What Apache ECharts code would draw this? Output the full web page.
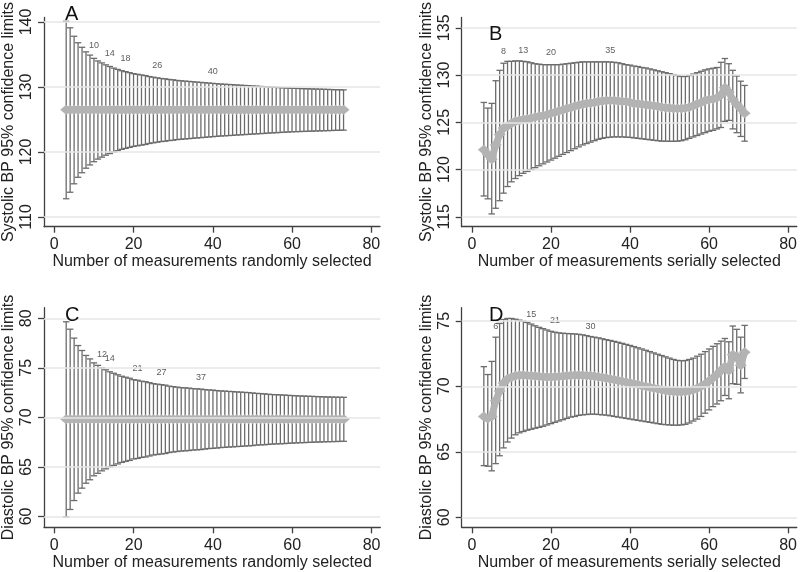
<!DOCTYPE html>
<html><head><meta charset="utf-8">
<script src="https://cdn.jsdelivr.net/npm/echarts@6/dist/echarts.min.js"></script>
<style>html,body{margin:0;padding:0;background:#fff}#c{width:800px;height:572px}</style>
</head><body><div id="c"></div>
<script>
// ---------- DATA ----------
const xTicks = [0, 20, 40, 60, 80];

// Panel A: systolic, random selection
const nA = [3,4,5,6,7,8,9,10,11,12,13,14,15,16,17,18,19,20,21,22,23,24,25,26,27,28,29,30,31,32,33,34,35,36,37,38,39,40,41,42,43,44,45,46,47,48,49,50,51,52,53,54,55,56,57,58,59,60,61,62,63,64,65,66,67,68,69,70,71,72,73];
const upperA = [140.1,139.1,137.8,136.8,136.1,135.4,134.9,134.4,134.0,133.7,
  133.4,133.15,132.9,132.7,132.5,132.35,132.2,132.05,131.95,131.85,
  131.75,131.6,131.5,131.4,131.3,131.25,131.15,131.1,131.0,130.95,
  130.9,130.85,130.8,130.75,130.7,130.65,130.6,130.55,130.5,130.45,
  130.42,130.38,130.35,130.3,130.27,130.23,130.2,130.15,130.12,130.08,
  130.05,130.0,129.97,129.94,129.9,129.87,129.84,129.8,129.78,129.76,
  129.74,129.72,129.7,129.68,129.66,129.64,129.62,129.6,129.58,129.57,
  129.55];
const lowerA = [112.8,113.8,115.1,116.1,116.8,117.5,118.0,118.5,118.9,119.2,
  119.5,119.75,120.0,120.2,120.4,120.55,120.7,120.85,120.95,121.05,
  121.15,121.3,121.4,121.5,121.6,121.65,121.75,121.8,121.9,121.95,
  122.0,122.05,122.1,122.15,122.2,122.25,122.3,122.35,122.4,122.45,
  122.48,122.52,122.55,122.6,122.63,122.67,122.7,122.75,122.78,122.82,
  122.85,122.9,122.93,122.96,123.0,123.03,123.06,123.1,123.12,123.14,
  123.16,123.18,123.2,123.22,123.24,123.26,123.28,123.3,123.32,123.33,
  123.35];
const meanA = [126.5,126.5,126.5,126.5,126.5,126.5,126.5,126.5,126.5,126.5,
  126.5,126.5,126.5,126.5,126.5,126.5,126.5,126.5,126.5,126.5,
  126.5,126.5,126.5,126.5,126.5,126.5,126.5,126.5,126.5,126.5,
  126.5,126.5,126.5,126.5,126.5,126.5,126.5,126.5,126.5,126.5,
  126.5,126.5,126.5,126.5,126.5,126.5,126.5,126.5,126.5,126.5,
  126.5,126.5,126.5,126.5,126.5,126.5,126.5,126.5,126.5,126.5,
  126.5,126.5,126.5,126.5,126.5,126.5,126.5,126.5,126.5,126.5,
  126.5];
const yTicksA = [110, 120, 130, 140];
const annAn = [10, 14, 18, 26, 40];
const annAy = [136.4, 135.1, 134.35, 133.3, 132.3];

// Panel B: systolic, serial selection
const nB = [3,4,5,6,7,8,9,10,11,12,13,14,15,16,17,18,19,20,21,22,23,24,25,26,27,28,29,30,31,32,33,34,35,36,37,38,39,40,41,42,43,44,45,46,47,48,49,50,51,52,53,54,55,56,57,58,59,60,61,62,63,64,65,66,67,68,69];
const upperB = [127.1,126.5,127.0,129.4,130.5,131.25,131.45,131.45,131.5,131.5,
  131.45,131.4,131.3,131.2,131.15,131.1,131.1,131.1,131.1,131.1,
  131.15,131.2,131.25,131.3,131.35,131.4,131.4,131.4,131.4,131.4,
  131.4,131.4,131.38,131.35,131.3,131.2,131.1,131.05,130.95,130.9,
  130.8,130.75,130.65,130.55,130.45,130.35,130.25,130.15,130.05,129.95,
  129.85,129.85,129.95,130.1,130.25,130.4,130.55,130.65,130.72,130.8,
  131.35,131.75,131.2,130.5,129.9,129.35,128.9];
const lowerB = [117.2,116.9,115.3,115.9,116.7,117.5,118.2,118.7,119.05,119.35,
  119.6,119.8,120.0,120.2,120.4,120.6,120.8,121.0,121.2,121.4,
  121.6,121.8,122.0,122.2,122.4,122.6,122.75,122.9,123.05,123.2,
  123.3,123.38,123.42,123.45,123.45,123.45,123.42,123.4,123.35,123.3,
  123.25,123.2,123.15,123.1,123.05,123.0,123.0,122.98,122.98,123.0,
  123.05,123.15,123.3,123.45,123.6,123.75,123.9,124.05,124.15,124.3,
  124.45,125.1,125.2,124.3,123.9,123.5,123.0];
const meanB = [122.1,121.6,121.1,122.6,123.7,124.4,124.6,124.9,125.1,125.2,
  125.3,125.35,125.45,125.55,125.65,125.7,125.8,125.95,126.05,126.2,
  126.3,126.45,126.55,126.7,126.8,126.9,127.0,127.05,127.1,127.2,
  127.25,127.3,127.3,127.3,127.25,127.2,127.2,127.1,127.0,126.95,
  126.9,126.85,126.8,126.75,126.7,126.6,126.55,126.5,126.45,126.45,
  126.45,126.5,126.6,126.75,126.95,127.1,127.3,127.4,127.45,127.6,
  127.9,128.65,128.2,127.4,126.9,126.45,125.95];
const yTicksB = [115, 120, 125, 130, 135];
const annBn = [8, 13, 20, 35];
const annBy = [132.45, 132.6, 132.4, 132.55];

// Panel C: diastolic, random selection
const nC = nA;
const upperC = [79.65,78.9,78.0,77.25,76.75,76.25,75.9,75.5,75.25,75.0,
  74.8,74.6,74.45,74.3,74.15,74.05,73.95,73.8,73.75,73.65,
  73.6,73.5,73.4,73.35,73.3,73.25,73.15,73.1,73.05,73.0,
  72.98,72.95,72.9,72.88,72.85,72.8,72.77,72.75,72.7,72.67,
  72.65,72.62,72.6,72.57,72.55,72.52,72.5,72.46,72.42,72.4,
  72.37,72.33,72.3,72.29,72.27,72.25,72.22,72.2,72.18,72.16,
  72.15,72.13,72.12,72.1,72.09,72.07,72.06,72.05,72.04,72.03,
  72.02];
const lowerC = [59.95,60.7,61.6,62.35,62.85,63.35,63.7,64.1,64.35,64.6,
  64.8,65.0,65.15,65.3,65.45,65.55,65.65,65.8,65.85,65.95,
  66.0,66.1,66.2,66.25,66.3,66.35,66.45,66.5,66.55,66.6,
  66.62,66.65,66.7,66.72,66.75,66.8,66.85,66.87,66.9,66.95,
  66.97,67.0,67.02,67.05,67.07,67.1,67.12,67.15,67.2,67.22,
  67.23,67.27,67.3,67.32,67.33,67.35,67.38,67.4,67.42,67.44,
  67.45,67.47,67.48,67.5,67.51,67.53,67.54,67.55,67.56,67.57,
  67.58];
const meanC = [69.8,69.8,69.8,69.8,69.8,69.8,69.8,69.8,69.8,69.8,
  69.8,69.8,69.8,69.8,69.8,69.8,69.8,69.8,69.8,69.8,
  69.8,69.8,69.8,69.8,69.8,69.8,69.8,69.8,69.8,69.8,
  69.8,69.8,69.8,69.8,69.8,69.8,69.8,69.8,69.8,69.8,
  69.8,69.8,69.8,69.8,69.8,69.8,69.8,69.8,69.8,69.8,
  69.8,69.8,69.8,69.8,69.8,69.8,69.8,69.8,69.8,69.8,
  69.8,69.8,69.8,69.8,69.8,69.8,69.8,69.8,69.8,69.8,
  69.8];
const yTicksC = [60, 65, 70, 75, 80];
const annCn = [12, 14, 21, 27, 37];
const annCy = [76.3, 75.9, 74.95, 74.55, 74.07];

// Panel D: diastolic, serial selection
const nD = nB;
const upperD = [71.5,70.9,71.9,73.75,74.8,75.1,75.18,75.18,75.12,75.05,
  74.97,74.87,74.75,74.62,74.5,74.4,74.3,74.2,74.13,74.08,
  74.05,74.03,74.02,74.0,73.97,73.93,73.87,73.8,73.75,73.7,
  73.63,73.56,73.5,73.43,73.36,73.28,73.2,73.12,73.03,72.94,
  72.85,72.75,72.65,72.55,72.45,72.35,72.25,72.15,72.05,71.98,
  71.95,71.97,72.05,72.15,72.3,72.45,72.65,72.85,73.05,73.25,
  73.45,73.65,73.4,74.6,74.35,73.75,74.65];
const lowerD = [63.95,63.9,63.55,64.1,64.7,65.3,65.75,66.05,66.3,66.45,
  66.55,66.65,66.72,66.8,66.87,66.95,67.05,67.15,67.25,67.35,
  67.45,67.55,67.65,67.7,67.78,67.82,67.85,67.87,67.87,67.85,
  67.82,67.8,67.75,67.7,67.65,67.6,67.55,67.5,67.45,67.4,
  67.35,67.3,67.25,67.2,67.15,67.1,67.07,67.05,67.03,67.03,
  67.05,67.1,67.2,67.35,67.5,67.7,67.95,68.2,68.45,68.65,
  68.9,69.3,69.05,70.2,70.15,69.5,70.6];
const meanD = [67.7,67.55,67.7,68.9,69.65,70.25,70.55,70.7,70.8,70.85,
  70.85,70.83,70.8,70.78,70.75,70.73,70.72,70.72,70.73,70.75,
  70.77,70.8,70.82,70.84,70.85,70.85,70.83,70.8,70.76,70.72,
  70.67,70.62,70.56,70.5,70.44,70.38,70.32,70.27,70.2,70.13,
  70.05,69.98,69.92,69.86,69.8,69.74,69.68,69.63,69.6,69.58,
  69.58,69.6,69.65,69.73,69.85,70.0,70.18,70.4,70.65,70.9,
  71.2,71.5,71.2,72.4,72.3,71.6,72.6];
const yTicksD = [60, 65, 70, 75];
const annDn = [6, 15, 21, 30];
const annDy = [74.6, 75.5, 75.03, 74.6];

// ---------- CHART ----------
const FONT = '"Liberation Sans", Arial, sans-serif';
const AXIS_COLOR = '#404040';
const TEXT_COLOR = '#222';
const BAR_COLOR = '#6c6c6c';
const MEAN_COLOR = '#b3b3b3';

const panels = [
  {n:nA, lo:lowerA, hi:upperA, mean:meanA, annN:annAn, annY:annAy, yt:yTicksA,
   grid:{left:43, top:15, width:337, height:211.7}, xr:[-2.6, 82.2], yr:[108.5, 140.7],
   yname:'Systolic BP 95% confidence limits', xname:'Number of measurements randomly selected',
   letter:'A', lpos:[65, 4]},
  {n:nB, lo:lowerB, hi:upperB, mean:meanB, annN:annBn, annY:annBy, yt:yTicksB,
   grid:{left:461.7, top:6.7, width:336, height:220}, xr:[-2.6, 82.2], yr:[113.95, 136.1],
   yname:'Systolic BP 95% confidence limits', xname:'Number of measurements serially selected',
   letter:'B', lpos:[489, 24]},
  {n:nC, lo:lowerC, hi:upperC, mean:meanC, annN:annCn, annY:annCy, yt:yTicksC,
   grid:{left:43.3, top:307.7, width:337, height:219.6}, xr:[-2.6, 82.2], yr:[58.9, 81.07],
   yname:'Diastolic BP 95% confidence limits', xname:'Number of measurements randomly selected',
   letter:'C', lpos:[65, 305]},
  {n:nD, lo:lowerD, hi:upperD, mean:meanD, annN:annDn, annY:annDy, yt:yTicksD,
   grid:{left:461.7, top:307.7, width:336, height:219.6}, xr:[-2.6, 82.2], yr:[59.24, 76.0],
   yname:'Diastolic BP 95% confidence limits', xname:'Number of measurements serially selected',
   letter:'D', lpos:[489, 305]}
];

function renderBar(params, api) {
  const x = api.value(0);
  const lo = api.coord([x, api.value(1)]);
  const hi = api.coord([x, api.value(2)]);
  const w = 3.2;
  const style = {stroke: BAR_COLOR, lineWidth: 1.3, fill: null};
  return {type:'group', children:[
    {type:'line', shape:{x1:lo[0], y1:lo[1], x2:hi[0], y2:hi[1]}, style:style},
    {type:'line', shape:{x1:hi[0]-w, y1:hi[1], x2:hi[0]+w, y2:hi[1]}, style:style},
    {type:'line', shape:{x1:lo[0]-w, y1:lo[1], x2:lo[0]+w, y2:lo[1]}, style:style}
  ]};
}

const option = {
  animation: false,
  backgroundColor: '#fff',
  title: panels.map(p => ({text:p.letter, left:p.lpos[0], top:p.lpos[1], padding:0,
    textStyle:{fontSize:20, fontWeight:'normal', color:'#111', fontFamily:FONT}})),
  grid: panels.map(p => Object.assign({containLabel:false}, p.grid)),
  xAxis: panels.map((p, i) => ({
    type:'value', gridIndex:i, min:p.xr[0], max:p.xr[1],
    axisLine:{show:true, onZero:false, lineStyle:{color:AXIS_COLOR, width:1.3}},
    axisTick:{show:true, customValues:xTicks, length:6, lineStyle:{color:AXIS_COLOR, width:1.3}},
    axisLabel:{show:true, customValues:xTicks, margin:10, fontSize:16, color:TEXT_COLOR, fontFamily:FONT},
    splitLine:{show:false},
    name:p.xname, nameLocation:'middle', nameGap:25,
    nameTextStyle:{fontSize:16, color:TEXT_COLOR, fontFamily:FONT}
  })),
  yAxis: panels.map((p, i) => ({
    type:'value', gridIndex:i, min:p.yr[0], max:p.yr[1],
    axisLine:{show:true, onZero:false, lineStyle:{color:AXIS_COLOR, width:1.3}},
    axisTick:{show:true, customValues:p.yt, length:6, lineStyle:{color:AXIS_COLOR, width:1.3}},
    axisLabel:{show:true, customValues:p.yt, rotate:90, margin:9, fontSize:16, color:TEXT_COLOR, fontFamily:FONT},
    splitLine:{show:false},
    name:p.yname, nameLocation:'middle', nameGap:27,
    nameTextStyle:{fontSize:16, color:TEXT_COLOR, fontFamily:FONT}
  })),
  series: []
};

panels.forEach((p, i) => {
  option.series.push({
    type:'scatter', xAxisIndex:i, yAxisIndex:i, data:[], z:1, silent:true,
    markLine:{silent:true, symbol:['none','none'], label:{show:false},
      lineStyle:{color:'#e6e6e6', width:1.5, type:'solid'},
      data:p.yt.map(v => ({yAxis:v}))}
  });
  option.series.push({
    type:'custom', xAxisIndex:i, yAxisIndex:i, z:2, silent:true,
    renderItem:renderBar,
    encode:{x:0, y:[1, 2]},
    data:p.n.map((x, k) => [x, p.lo[k], p.hi[k]])
  });
  option.series.push({
    type:'line', xAxisIndex:i, yAxisIndex:i, z:3, silent:true,
    data:p.n.map((x, k) => [x, p.mean[k]]),
    symbol:'diamond', symbolSize:[12, 10], showSymbol:true, showAllSymbol:true,
    lineStyle:{color:MEAN_COLOR, width:7, join:'round'},
    itemStyle:{color:MEAN_COLOR}
  });
  option.series.push({
    type:'scatter', xAxisIndex:i, yAxisIndex:i, z:4, silent:true,
    symbolSize:1, itemStyle:{color:'rgba(0,0,0,0)'},
    data:p.annN.map((x, k) => [x, p.annY[k]]),
    label:{show:true, position:'inside', formatter:q => String(q.value[0]),
      fontSize:9, color:'#333', fontFamily:FONT}
  });
});

const chart = echarts.init(document.getElementById('c'), null, {renderer:'canvas'});
chart.setOption(option);
</script>
</body></html>
